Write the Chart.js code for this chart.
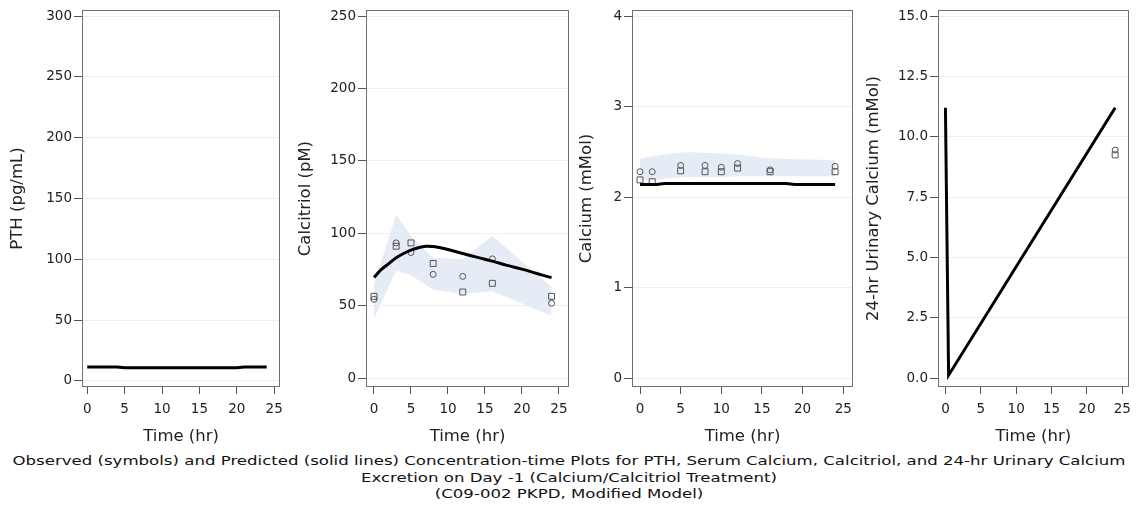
<!DOCTYPE html>
<html>
<head>
<meta charset="utf-8">
<script src="https://cdn.jsdelivr.net/npm/chart.js@4.4.1/dist/chart.umd.min.js"></script>
<style>
  body { margin: 0; background: #fff; width: 1138px; height: 511px; position: relative; overflow: hidden; font-family: "DejaVu Sans", Verdana, sans-serif; }
  canvas { position: absolute; top: 0; }
  #caption { position: absolute; left: 0; top: 453px; width: 1138px; text-align: center; font-size: 13px; line-height: 16.5px; color: #111; transform-origin: 569px 0; }
</style>
</head>
<body>
<canvas id="pthChart" width="290" height="450" style="left:0px"></canvas>
<canvas id="calcitriolChart" width="285" height="450" style="left:290px"></canvas>
<canvas id="calciumChart" width="285" height="450" style="left:575px"></canvas>
<canvas id="urinaryChart" width="278" height="450" style="left:860px"></canvas>
<div id="caption"><span id="capLine1">Observed (symbols) and Predicted (solid lines) Concentration-time Plots for PTH, Serum Calcium, Calcitriol, and 24-hr Urinary Calcium</span><br>Excretion on Day -1 (Calcium/Calcitriol Treatment)<br>(C09-002 PKPD, Modified Model)</div>
<script>
// shared time axis
const timeTicks = [0, 5, 10, 15, 20, 25];

// PTH
const pthTicks = [0, 50, 100, 150, 200, 250, 300];
const pthPredTime = [0, 4, 5, 20, 21, 24];
const pthPred = [11.5, 11.5, 10.8, 10.8, 11.5, 11.5];

// Calcitriol
const ctrTicks = [0, 50, 100, 150, 200, 250];
const ctrPredTime = [0, 1, 2, 3, 4, 5, 6, 7, 8, 9, 10, 12, 14, 16, 18, 20, 22, 24];
const ctrPred = [69.5, 75, 79, 83, 86, 88.3, 90, 91, 90.8, 90, 88.8, 86, 83.3, 80.7, 77.8, 75.2, 72.2, 69.3];
const ctrObsTime = [0, 3, 5, 8, 12, 16, 24];
const ctrCircles = [54.4, 93.3, 86.7, 71.6, 70.2, 82.3, 51.6];
const ctrSquares = [56.4, 91, 93.3, 79.1, 59.4, 65.4, 56.4];
const ctrBandTime = [0, 3, 5, 8, 12, 16, 24];
const ctrBandUpper = [65, 113, 98, 83, 82, 98, 63];
const ctrBandLower = [41, 74, 71, 61, 58, 60, 43];

// Serum calcium
const caTicks = [0, 1, 2, 3, 4];
const caPredTime = [0, 2, 3, 18, 19, 24];
const caPred = [2.14, 2.14, 2.15, 2.15, 2.14, 2.14];
const caObsTime = [0, 1.5, 5, 8, 10, 12, 16, 24];
const caCircles = [2.28, 2.28, 2.35, 2.35, 2.33, 2.37, 2.30, 2.34];
const caSquares = [2.19, 2.17, 2.29, 2.28, 2.28, 2.32, 2.28, 2.28];
const caBandUpper = [2.42, 2.45, 2.49, 2.49, 2.48, 2.47, 2.43, 2.41];
const caBandLower = [2.19, 2.19, 2.22, 2.22, 2.22, 2.23, 2.23, 2.23];

// 24-hr urinary calcium
const ucaTicks = [0, 2.5, 5, 7.5, 10, 12.5, 15];
const ucaPredTime = [0, 0.45, 24];
const ucaPred = [11.2, 0.12, 11.2];
const ucaObsTime = [24];
const ucaCircles = [9.45];
const ucaSquares = [9.25];

Chart.defaults.font.family = '"DejaVu Sans", Verdana, sans-serif';
Chart.defaults.color = '#222';

const BAND = '#e6ecf5';
const MARK = '#555';

function pts(xs, ys) {
  return xs.map((x, i) => ({ x: x, y: ys[i] }));
}

// box around the plot area
const framePlugin = {
  id: 'frame',
  afterDraw(chart) {
    const a = chart.chartArea;
    const ctx = chart.ctx;
    ctx.save();
    ctx.strokeStyle = '#707070';
    ctx.lineWidth = 1;
    ctx.strokeRect(Math.round(a.left) + 0.5, Math.round(a.top) + 0.5,
      Math.round(a.right - a.left) - 1, Math.round(a.bottom - a.top) - 1);
    ctx.restore();
  }
};

function predSet(xs, ys, tension) {
  return { data: pts(xs, ys), showLine: true, borderColor: '#000', borderWidth: 3,
    pointRadius: 0, tension: tension || 0, fill: false };
}
function markSet(xs, ys, style) {
  return { data: pts(xs, ys), showLine: false, pointStyle: style,
    pointRadius: style === 'rect' ? 4.2 : 3, borderColor: MARK, borderWidth: 1,
    backgroundColor: 'rgba(0,0,0,0)' };
}
function bandSets(xs, lo, hi, tension) {
  return [
    { data: pts(xs, lo), showLine: true, borderWidth: 0, borderColor: 'rgba(0,0,0,0)',
      pointRadius: 0, tension: tension || 0, fill: false },
    { data: pts(xs, hi), showLine: true, borderWidth: 0, borderColor: 'rgba(0,0,0,0)',
      pointRadius: 0, tension: tension || 0, fill: '-1', backgroundColor: BAND }
  ];
}

function panel(id, p) {
  new Chart(document.getElementById(id), {
    type: 'scatter',
    data: { datasets: p.datasets },
    options: {
      responsive: false,
      animation: false,
      layout: { padding: { top: 10, right: p.padRight, left: 0, bottom: 0 } },
      plugins: { legend: { display: false }, tooltip: { enabled: false } },
      scales: {
        x: {
          type: 'linear', min: p.xmin, max: p.xmax,
          afterBuildTicks: s => { s.ticks = timeTicks.map(v => ({ value: v })); },
          afterFit: s => { s.height = 63; },
          grid: { drawOnChartArea: false, tickLength: 7, tickColor: '#555' },
          border: { display: false },
          ticks: { autoSkip: false, maxRotation: 0, padding: 7, font: { size: 13.5 } },
          title: { display: true, text: 'Time (hr)', font: { size: 16.5 }, padding: { top: 0, bottom: 3 } }
        },
        y: {
          type: 'linear', min: p.ymin, max: p.ymax,
          afterBuildTicks: s => { s.ticks = p.yTicks.map(v => ({ value: v })); },
          afterFit: s => { s.width = p.yw; },
          grid: { color: '#eeeeee', tickLength: 8, tickColor: '#555' },
          border: { display: false },
          ticks: { autoSkip: false, padding: 2, font: { size: 13.5 },
            callback: v => p.fmt ? p.fmt(v) : v },
          title: { display: true, text: p.yTitle, font: { size: 16.5 }, padding: { top: p.titlePad, bottom: 0 } }
        }
      }
    },
    plugins: [framePlugin]
  });
}

panel('pthChart', {
  yTitle: 'PTH (pg/mL)', yTicks: pthTicks, ymin: -5, ymax: 305,
  xmin: -0.7, xmax: 25.8, yw: 82, padRight: 7, titlePad: 8,
  datasets: [predSet(pthPredTime, pthPred)]
});

panel('calcitriolChart', {
  yTitle: 'Calcitriol (pM)', yTicks: ctrTicks, ymin: -6.2, ymax: 254.1,
  xmin: -1.08, xmax: 26.36, yw: 76, padRight: 6, titlePad: 6,
  datasets: [
    predSet(ctrPredTime, ctrPred, 0.4),
    markSet(ctrObsTime, ctrCircles, 'circle'),
    markSet(ctrObsTime, ctrSquares, 'rect')
  ].concat(bandSets(ctrBandTime, ctrBandLower, ctrBandUpper, 0))
});

panel('calciumChart', {
  yTitle: 'Calcium (mMol)', yTicks: caTicks, ymin: -0.099, ymax: 4.066,
  xmin: -0.985, xmax: 26.2, yw: 57, padRight: 7, titlePad: 2,
  datasets: [
    predSet(caPredTime, caPred),
    markSet(caObsTime, caCircles, 'circle'),
    markSet(caObsTime, caSquares, 'rect')
  ].concat(bandSets(caObsTime, caBandLower, caBandUpper, 0.4))
});

panel('urinaryChart', {
  yTitle: '24-hr Urinary Calcium (mMol)', yTicks: ucaTicks, ymin: -0.37, ymax: 15.25,
  xmin: -1.05, xmax: 25.9, yw: 78, padRight: 2, titlePad: 4,
  fmt: v => v.toFixed(1),
  datasets: [
    predSet(ucaPredTime, ucaPred),
    markSet(ucaObsTime, ucaCircles, 'circle'),
    markSet(ucaObsTime, ucaSquares, 'rect')
  ]
});

// caption text in the reference is stretched wide; fit the first line to its width
const capLine1 = document.getElementById('capLine1');
const capWidth = capLine1.getBoundingClientRect().width;
document.getElementById('caption').style.transform = 'scaleX(' + (1113 / capWidth) + ')';
</script>
</body>
</html>
